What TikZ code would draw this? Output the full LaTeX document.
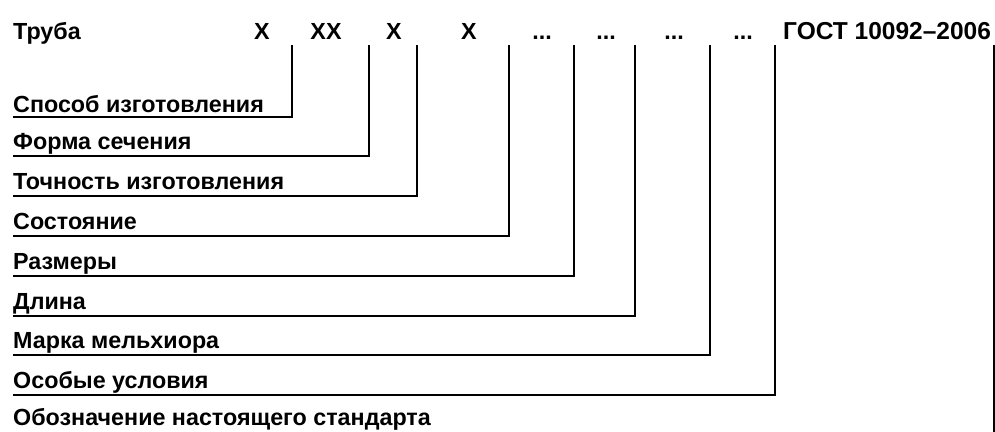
\documentclass[tikz,border=0pt]{standalone}
\usepackage{fontspec}
\setmainfont{Liberation Sans}
\usetikzlibrary{calc}

\begin{document}
\begin{tikzpicture}[x=1pt, y=-1pt,
    txt/.style={font=\bfseries\fontsize{23.3}{28}\selectfont, anchor=base west, inner sep=0pt},
    sym/.style={txt, anchor=base},
    conn/.style={draw, line width=2.6pt}]
        \useasboundingbox (0,0) rectangle (995,431);
        % header
        \node[txt](T) at (13,39) {Труба};
        \node[sym](X1) at (262,39) {X};
        \node[sym](X2) at (326,39) {XX};
        \node[sym](X3) at (394,39) {X};
        \node[sym](X4) at (469,39) {X};
        \node[sym](D1) at (542,39) {...};
        \node[sym](D2) at (606,39) {...};
        \node[sym](D3) at (674,39) {...};
        \node[sym](D4) at (743,39) {...};
        \node[txt, font=\bfseries\fontsize{24.5}{28}\selectfont](G) at (783,39) {ГОСТ 10092--2006};
        % line tops
        \coordinate(P1) at (292,45);
        \coordinate(P2) at (369,45);
        \coordinate(P3) at (417,45);
        \coordinate(P4) at (509,45);
        \coordinate(P5) at (574,45);
        \coordinate(P6) at (635,45);
        \coordinate(P7) at (710,45);
        \coordinate(P8) at (775,45);
        \coordinate(P9) at (994,45);
        % line starts
        \coordinate(S1) at (13,117);
        \coordinate(S2) at (13,156);
        \coordinate(S3) at (13,196);
        \coordinate(S4) at (13,236);
        \coordinate(S5) at (13,276);
        \coordinate(S6) at (13,316);
        \coordinate(S7) at (13,355);
        \coordinate(S8) at (13,395);
        \coordinate(S9) at (994,445);
        % labels
        \node[txt](L1) at (13,112) {Способ изготовления};
        \node[txt](L2) at (13,149) {Форма сечения};
        \node[txt](L3) at (13,189) {Точность изготовления};
        \node[txt](L4) at (13,229) {Состояние};
        \node[txt](L5) at (13,269) {Размеры};
        \node[txt](L6) at (13,309) {Длина};
        \node[txt](L7) at (13,348) {Марка мельхиора};
        \node[txt](L8) at (13,388) {Особые условия};
        \node[txt](L9) at (13,425) {Обозначение настоящего стандарта};
        % connectors
        \path[conn](S1) -- (S1 -| P1) -- (P1);
        \path[conn](S2) -- (S2 -| P2) -- (P2);
        \path[conn](S3) -- (S3 -| P3) -- (P3);
        \path[conn](S4) -- (S4 -| P4) -- (P4);
        \path[conn](S5) -- (S5 -| P5) -- (P5);
        \path[conn](S6) -- (S6 -| P6) -- (P6);
        \path[conn](S7) -- (S7 -| P7) -- (P7);
        \path[conn](S8) -- (S8 -| P8) -- (P8);
        \path[conn](S9) -- (P9);
    \end{tikzpicture}
\end{document}
